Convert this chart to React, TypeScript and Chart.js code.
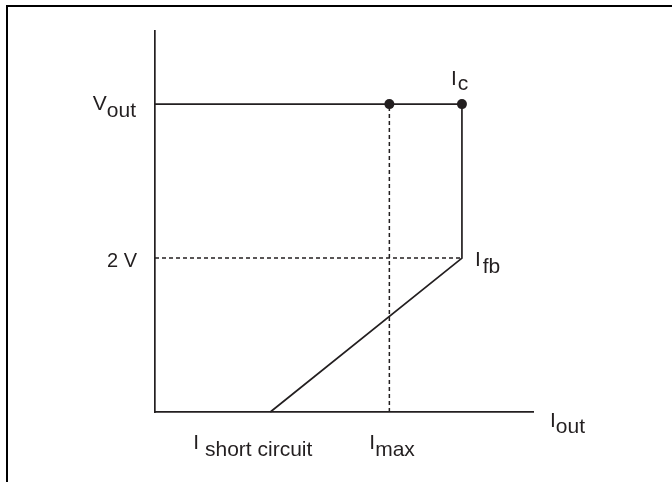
import React, { useEffect, useRef } from "react";
import { Chart, registerables } from "chart.js";

Chart.register(...registerables);

// ---- data (arbitrary current units on x, volts on y) ----
const I_SHORT = 3.05;
const I_MAX = 6.2;
const I_C = 8.12;
const V_OUT = 4;
const V_FB = 2;
const I_AXIS_MAX = 10;
const V_AXIS_MAX = 4.95;

// foldback characteristic: short circuit -> I_fb -> I_c -> V_out level back to axis
const curveI = [I_SHORT, I_C, I_C, 0];
const curveV = [0, V_FB, V_OUT, V_OUT];

// dashed guides
const fbGuideI = [0, I_C];
const fbGuideV = [V_FB, V_FB];
const maxGuideI = [I_MAX, I_MAX];
const maxGuideV = [0, V_OUT];

// marker dots
const markerI = [I_MAX, I_C];
const markerV = [V_OUT, V_OUT];

// tick labels (main + subscript)
const yTickValues = [V_OUT, V_FB];
const yTickMain = ["V", "2 V"];
const yTickSub = ["out", ""];

const xTickValues = [I_SHORT, I_MAX];
const xTickMain = ["I", "I"];
const xTickSub = [" short circuit", "max"];

// point labels
const icLabel = ["I", "c"];
const ifbLabel = ["I", "fb"];
const xAxisTitle = ["I", "out"];

const INK = "#231f20";
const FONT = '21px "Liberation Sans", Arial, sans-serif';
const FONT_SMALL = '20px "Liberation Sans", Arial, sans-serif';

const toPts = (xs: number[], ys: number[]) => xs.map((x, i) => ({ x, y: ys[i] }));

const textPlugin = {
  id: "diagramText",
  beforeDraw(chart: any) {
    const ctx = chart.ctx;
    ctx.save();
    ctx.fillStyle = "#ffffff";
    ctx.fillRect(0, 0, chart.width, chart.height);
    // frame (top and left edges visible)
    ctx.strokeStyle = "#000000";
    ctx.lineWidth = 2;
    ctx.beginPath();
    ctx.moveTo(7, chart.height);
    ctx.lineTo(7, 6);
    ctx.lineTo(chart.width, 6);
    ctx.stroke();
    ctx.restore();
  },
  afterDraw(chart: any) {
    const ctx = chart.ctx;
    const xs = chart.scales.x;
    const ys = chart.scales.y;
    const area = chart.chartArea;
    ctx.save();
    ctx.fillStyle = INK;
    ctx.font = FONT;
    ctx.textBaseline = "alphabetic";

    const drawPair = (
      main: string,
      sub: string,
      left: number,
      baseMain: number,
      baseSub: number,
      gap = 0
    ) => {
      ctx.textAlign = "left";
      ctx.fillText(main, left, baseMain);
      const w = ctx.measureText(main).width;
      if (sub) ctx.fillText(sub, left + w + gap, baseSub);
    };

    // y tick labels, right aligned
    yTickValues.forEach((v, i) => {
      const py = ys.getPixelForValue(v);
      const right = area.left - 19;
      const main = yTickMain[i];
      const sub = yTickSub[i];
      if (sub) {
        ctx.font = FONT;
        const wSub = ctx.measureText(sub).width;
        const wMain = ctx.measureText(main).width;
        drawPair(main, sub, right - wSub - wMain, py + 6, py + 13);
      } else {
        ctx.font = FONT_SMALL;
        const wMain = ctx.measureText(main).width;
        drawPair(main, "", right - wMain + 1, py + 9, py + 9);
        ctx.font = FONT;
      }
    });

    // x tick labels
    const xOffsets = [-77, -20];
    xTickValues.forEach((v, i) => {
      const px = xs.getPixelForValue(v);
      drawPair(xTickMain[i], xTickSub[i], px + xOffsets[i], area.bottom + 37, area.bottom + 44);
    });

    // axis title I_out
    drawPair(xAxisTitle[0], xAxisTitle[1], area.right + 17, area.bottom + 15, area.bottom + 21);

    // I_c label
    const pcx = xs.getPixelForValue(I_C);
    const pcy = ys.getPixelForValue(V_OUT);
    drawPair(icLabel[0], icLabel[1], pcx - 11, pcy - 19, pcy - 14, 1);

    // I_fb label
    const pfy = ys.getPixelForValue(V_FB);
    drawPair(ifbLabel[0], ifbLabel[1], pcx + 13, pfy + 8, pfy + 15, 2);

    ctx.restore();
  },
};

export default function App() {
  const ref = useRef<HTMLCanvasElement | null>(null);

  useEffect(() => {
    if (!ref.current) return;
    const chart = new Chart(ref.current, {
      type: "scatter",
      data: {
        datasets: [
          {
            data: toPts(curveI, curveV),
            showLine: true,
            borderColor: INK,
            borderWidth: 1.7,
            pointRadius: 0,
            fill: false,
            tension: 0,
            clip: false,
          } as any,
          {
            data: toPts(fbGuideI, fbGuideV),
            showLine: true,
            borderColor: INK,
            borderWidth: 1.5,
            borderDash: [4, 3],
            pointRadius: 0,
            clip: false,
          } as any,
          {
            data: toPts(maxGuideI, maxGuideV),
            showLine: true,
            borderColor: INK,
            borderWidth: 1.5,
            borderDash: [4, 3],
            pointRadius: 0,
            clip: false,
          } as any,
          {
            data: toPts(markerI, markerV),
            showLine: false,
            pointRadius: 5,
            pointBackgroundColor: INK,
            pointBorderWidth: 0,
            clip: false,
          } as any,
        ],
      },
      options: {
        animation: false,
        responsive: false,
        events: [],
        layout: { padding: { left: 155, right: 139, top: 31, bottom: 70 } },
        plugins: { legend: { display: false }, tooltip: { enabled: false } },
        scales: {
          x: {
            type: "linear",
            min: 0,
            max: I_AXIS_MAX,
            grid: { display: false },
            ticks: { display: false },
            border: { display: true, color: INK, width: 1.7 },
            afterFit: (s: any) => {
              s.height = 0;
            },
          },
          y: {
            type: "linear",
            min: 0,
            max: V_AXIS_MAX,
            grid: { display: false },
            ticks: { display: false },
            border: { display: true, color: INK, width: 1.7 },
            afterFit: (s: any) => {
              s.width = 0;
            },
          },
        },
      },
      plugins: [textPlugin],
    });
    return () => chart.destroy();
  }, []);

  return (
    <div style={{ position: "absolute", left: 0, top: 0, width: 672, height: 482, background: "#fff" }}>
      <canvas ref={ref} width={672} height={482} style={{ display: "block", width: 672, height: 482 }} />
    </div>
  );
}
